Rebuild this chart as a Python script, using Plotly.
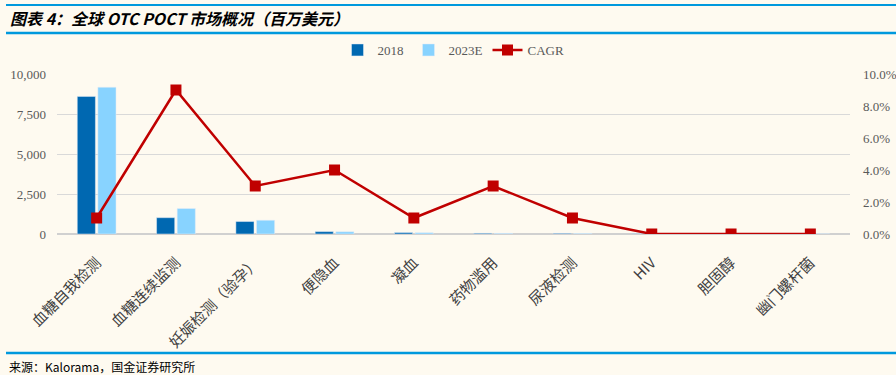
import plotly.graph_objects as go

categories = ["血糖自我检测", "血糖连续监测", "妊娠检测（验孕）", "便隐血", "凝血",
              "药物滥用", "尿液检测", "HIV", "胆固醇", "幽门螺杆菌"]
v2018 = [8600, 1020, 780, 150, 90, 45, 40, 20, 10, 10]
v2023 = [9170, 1590, 860, 140, 80, 40, 35, 20, 10, 10]
cagr = [0.01, 0.09, 0.03, 0.04, 0.01, 0.03, 0.01, 0.0, 0.0, 0.0]

W, H = 896, 375
L, R, T, B = 57, 46, 74, 141
PW, PH = W - L - R, H - T - B

def px(x):
    return (x - L) / PW

def py(y):
    return (H - B - y) / PH

bg = "#FEFAF0"
tickfont = dict(family="Liberation Serif, Times New Roman, serif", size=13, color="#595959")

fig = go.Figure()
fig.add_trace(go.Bar(x=categories, y=v2018, name="2018", marker_color="#0068B1", yaxis="y"))
fig.add_trace(go.Bar(x=categories, y=v2023, name="2023E", marker_color="#88D3FF", yaxis="y"))
fig.add_trace(go.Scatter(x=categories, y=cagr, name="CAGR", yaxis="y2", mode="lines+markers",
                         line=dict(color="#C00000", width=2.5),
                         marker=dict(symbol="square", size=11, color="#C00000")))

shapes = []
blue = "#0099DD"
for yy, wdt in [(5, 2), (33, 2.5), (353, 2.5)]:
    shapes.append(dict(type="line", xref="paper", yref="paper", x0=px(6), x1=px(896),
                       y0=py(yy), y1=py(yy), line=dict(color=blue, width=wdt)))

annotations = [
    dict(text="<b><i>图表 4：全球 OTC POCT 市场概况（百万美元）</i></b>", xref="paper", yref="paper",
         x=px(8), y=py(18), xanchor="left", yanchor="middle", showarrow=False,
         font=dict(family="Noto Sans CJK SC, Liberation Sans, sans-serif", size=16, color="#000000")),
    dict(text="来源：Kalorama，国金证券研究所", xref="paper", yref="paper",
         x=px(7), y=py(366), xanchor="left", yanchor="middle", showarrow=False,
         font=dict(family="Noto Sans CJK SC, sans-serif", size=12, color="#000000")),
]

fig.update_layout(
    width=W, height=H,
    margin=dict(l=L, r=R, t=T, b=B, pad=0, autoexpand=False),
    paper_bgcolor=bg, plot_bgcolor=bg,
    barmode="group", bargap=0.48, bargroupgap=0.12,
    showlegend=True,
    legend=dict(orientation="h", x=0.5, xanchor="center", y=py(50), yanchor="middle",
                font=dict(family="Liberation Serif, serif", size=13, color="#595959"),
                bgcolor="rgba(0,0,0,0)", traceorder="normal"),
    xaxis=dict(tickangle=-45, showgrid=False, showline=False, ticks="", automargin=False,
               range=[-0.5, 9.5], ticklabelstandoff=16,
               tickfont=dict(family="Noto Sans CJK SC, sans-serif", size=15, color="#404040")),
    yaxis=dict(range=[0, 10000], dtick=2500, tickformat=",", showgrid=True, gridcolor="#D9D9D9",
               gridwidth=1, zeroline=True, zerolinecolor="#D0D0D0", zerolinewidth=1.5,
               tickfont=tickfont, ticks="", showline=False, automargin=False,
               ticklabelstandoff=10),
    yaxis2=dict(range=[0, 0.1], dtick=0.02, tickformat=".1%", overlaying="y", side="right",
                showgrid=False, zeroline=False, tickfont=tickfont, ticks="", showline=False,
                automargin=False, ticklabelstandoff=12),
    shapes=shapes, annotations=annotations,
)

fig.write_html("out.html")
